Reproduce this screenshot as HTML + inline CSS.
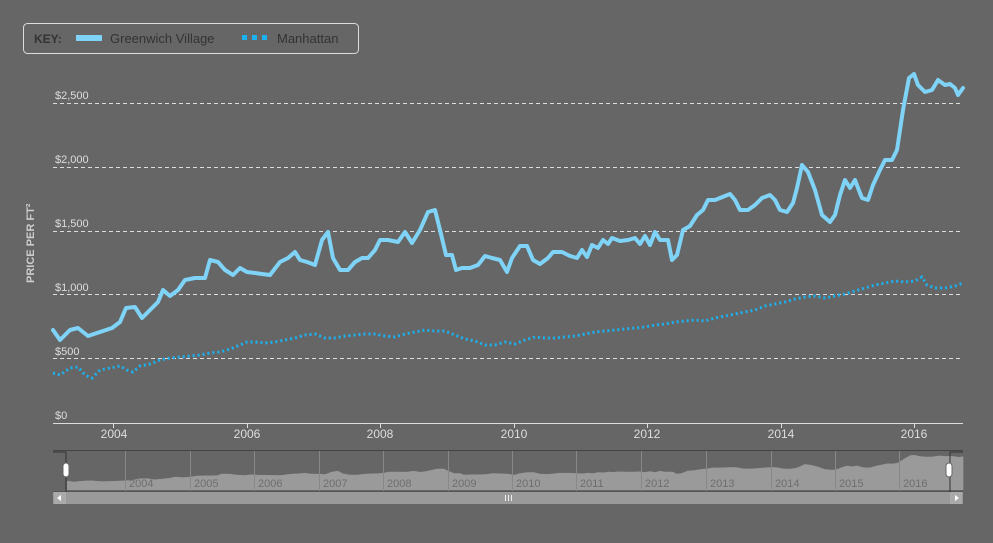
<!DOCTYPE html>
<html><head><style>
html,body{margin:0;padding:0;background:#666;}
body{width:993px;height:538px;overflow:hidden;font-family:"Liberation Sans",sans-serif;}
</style></head><body>
<svg width="993" height="538" xmlns="http://www.w3.org/2000/svg" font-family="Liberation Sans, sans-serif">
<rect width="993" height="538" fill="#666"/>
<!-- legend -->
<rect x="23.5" y="23.5" width="335" height="30" rx="4" fill="#666" stroke="#ddd" stroke-width="1"/>
<text x="34" y="43" font-size="12" font-weight="bold" fill="#333">KEY:</text>
<rect x="76" y="35" width="26" height="6" fill="#7fd3f7"/>
<text x="110" y="43" font-size="13" fill="#333">Greenwich Village</text>
<rect x="242" y="35" width="5" height="5" fill="#1ab2f0"/><rect x="252" y="35" width="5" height="5" fill="#1ab2f0"/><rect x="262" y="35" width="5" height="5" fill="#1ab2f0"/>
<text x="277" y="43" font-size="13" fill="#333">Manhattan</text>
<!-- grid -->
<g stroke="#ddd" stroke-dasharray="4,3" stroke-width="1">
<line x1="53" x2="963" y1="103.5" y2="103.5"/>
<line x1="53" x2="963" y1="167.5" y2="167.5"/>
<line x1="53" x2="963" y1="231.5" y2="231.5"/>
<line x1="53" x2="963" y1="294.5" y2="294.5"/>
<line x1="53" x2="963" y1="358.5" y2="358.5"/>
</g>
<line x1="53" x2="963" y1="423.5" y2="423.5" stroke="#ddd"/>
<g font-size="11" fill="#ddd">
<text x="55" y="99">$2,500</text><text x="55" y="163">$2,000</text><text x="55" y="227">$1,500</text>
<text x="55" y="291">$1,000</text><text x="55" y="355">$500</text><text x="55" y="419">$0</text>
</g>
<g stroke="#ddd"><line x1="113.5" x2="113.5" y1="423" y2="428"/><line x1="247.5" x2="247.5" y1="423" y2="428"/><line x1="380.5" x2="380.5" y1="423" y2="428"/><line x1="514.5" x2="514.5" y1="423" y2="428"/><line x1="647.5" x2="647.5" y1="423" y2="428"/><line x1="781.5" x2="781.5" y1="423" y2="428"/><line x1="914.5" x2="914.5" y1="423" y2="428"/></g>
<g font-size="12" fill="#ddd" text-anchor="middle">
<text x="114" y="438">2004</text><text x="247" y="438">2006</text><text x="380" y="438">2008</text><text x="514" y="438">2010</text><text x="647" y="438">2012</text><text x="781" y="438">2014</text><text x="914" y="438">2016</text>
</g>
<text transform="translate(34,283) rotate(-90)" font-size="11" font-weight="bold" fill="#ccc">PRICE PER FT²</text>
<!-- Manhattan -->
<polyline fill="none" stroke="#1ab2f0" stroke-width="3" stroke-dasharray="2,3" points="53,373 60,375 70,368 78,367 85,375 92,378 100,370 110,368 120,366 127,370 133,372 140,366 150,364 160,360 170,358 180,357 190,356 200,355 210,353 220,352 230,349 240,345 247,342 255,342 265,343 275,342 285,340 295,338 305,335 315,334 325,338 335,338 345,336 355,335 365,334 375,334 385,336 395,337 405,334 415,332 425,330 435,331 445,331 455,335 465,339 475,341 485,345 495,345 505,342 515,344 525,340 535,337 545,338 555,338 565,337 575,336 585,334 595,332 605,331 615,330 625,329 635,328 645,327 655,325 665,324 675,322 685,321 695,320 705,321 715,318 725,316 735,314 745,312 755,310 765,306 775,304 785,302 795,299 805,297 815,296 825,298 835,296 845,294 855,291 865,288 875,285 885,283 895,281 905,282 915,281 922,277 927,285 935,288 945,288 955,286 963,283"/>
<!-- GV -->
<polyline id="gv" fill="none" stroke="#7fd3f7" stroke-width="4" stroke-linejoin="round" stroke-linecap="round" points="53,330 60,340 70,330 78,328 88,336 100,332 112,328 120,322 126,308 135,307 142,318 150,310 158,302 163,290 170,296 178,290 185,280 195,278 205,278 210,260 218,262 225,270 233,275 240,268 247,272 255,273 262,274 270,275 280,262 288,258 295,252 300,260 307,262 315,265 322,240 328,232 333,258 340,270 348,270 355,262 362,258 368,258 375,250 380,240 388,240 398,242 405,232 412,243 420,230 428,212 435,210 440,230 446,255 452,255 456,270 462,268 470,268 478,265 485,256 492,258 500,260 507,272 512,258 520,246 527,246 533,260 540,264 548,258 553,252 562,252 570,256 577,258 582,250 587,257 592,245 598,248 603,240 608,244 612,238 620,241 628,240 635,238 640,244 645,236 650,245 655,232 660,240 668,240 672,260 677,255 683,230 690,226 697,215 703,210 708,200 715,200 720,198 725,196 730,194 735,200 740,210 748,210 755,205 762,198 770,195 775,200 780,210 787,212 793,203 797,188 802,165 808,172 815,190 822,215 830,222 835,215 840,195 845,180 850,188 855,180 858,188 862,198 868,200 873,185 879,172 885,160 892,160 897,150 903,110 909,78 914,74 918,85 925,92 932,90 938,80 945,85 950,84 955,88 958,95 963,88"/>
<!-- navigator -->
<line x1="53" x2="963" y1="450.5" y2="450.5" stroke="#444"/>
<g transform="matrix(0.985,0,0,0.1006,14.8,447.55)">
<polygon fill="#9a9a9a" points="53,422 53,330 60,340 70,330 78,328 88,336 100,332 112,328 120,322 126,308 135,307 142,318 150,310 158,302 163,290 170,296 178,290 185,280 195,278 205,278 210,260 218,262 225,270 233,275 240,268 247,272 255,273 262,274 270,275 280,262 288,258 295,252 300,260 307,262 315,265 322,240 328,232 333,258 340,270 348,270 355,262 362,258 368,258 375,250 380,240 388,240 398,242 405,232 412,243 420,230 428,212 435,210 440,230 446,255 452,255 456,270 462,268 470,268 478,265 485,256 492,258 500,260 507,272 512,258 520,246 527,246 533,260 540,264 548,258 553,252 562,252 570,256 577,258 582,250 587,257 592,245 598,248 603,240 608,244 612,238 620,241 628,240 635,238 640,244 645,236 650,245 655,232 660,240 668,240 672,260 677,255 683,230 690,226 697,215 703,210 708,200 715,200 720,198 725,196 730,194 735,200 740,210 748,210 755,205 762,198 770,195 775,200 780,210 787,212 793,203 797,188 802,165 808,172 815,190 822,215 830,222 835,215 840,195 845,180 850,188 855,180 858,188 862,198 868,200 873,185 879,172 885,160 892,160 897,150 903,110 909,78 914,74 918,85 925,92 932,90 938,80 945,85 950,84 955,88 958,95 963,88 963,422"/>
</g>
<g stroke="#888" stroke-width="1">
<line x1="125.5" x2="125.5" y1="451" y2="491"/><line x1="190.5" x2="190.5" y1="451" y2="491"/><line x1="254.5" x2="254.5" y1="451" y2="491"/><line x1="319.5" x2="319.5" y1="451" y2="491"/><line x1="383.5" x2="383.5" y1="451" y2="491"/><line x1="448.5" x2="448.5" y1="451" y2="491"/><line x1="512.5" x2="512.5" y1="451" y2="491"/><line x1="576.5" x2="576.5" y1="451" y2="491"/><line x1="641.5" x2="641.5" y1="451" y2="491"/><line x1="706.5" x2="706.5" y1="451" y2="491"/><line x1="771.5" x2="771.5" y1="451" y2="491"/><line x1="835.5" x2="835.5" y1="451" y2="491"/><line x1="899.5" x2="899.5" y1="451" y2="491"/>
</g>
<g font-size="11" fill="#6e6e6e">
<text x="129" y="487">2004</text><text x="194" y="487">2005</text><text x="258" y="487">2006</text><text x="323" y="487">2007</text><text x="387" y="487">2008</text><text x="452" y="487">2009</text><text x="516" y="487">2010</text><text x="580" y="487">2011</text><text x="645" y="487">2012</text><text x="710" y="487">2013</text><text x="775" y="487">2014</text><text x="839" y="487">2015</text><text x="903" y="487">2016</text>
</g>
<line x1="53" x2="963" y1="491.5" y2="491.5" stroke="#555"/>
<rect x="53" y="492" width="910" height="12" fill="#9a9a9a"/>
<rect x="54" y="492" width="12" height="12" fill="#aaa"/>
<rect x="950" y="492" width="12" height="12" fill="#aaa"/>
<path d="M61,495 L57,498 L61,501Z" fill="#fff"/><path d="M955,495 L959,498 L955,501Z" fill="#fff"/>
<g stroke="#eee"><line x1="505.5" x2="505.5" y1="495" y2="501"/><line x1="508.5" x2="508.5" y1="495" y2="501"/><line x1="511.5" x2="511.5" y1="495" y2="501"/></g>
<path d="M53,452 H66 V492" fill="none" stroke="#333"/>
<path d="M963,452 H950 V492" fill="none" stroke="#333"/>
<rect x="63" y="463" width="6" height="14" rx="3" fill="#fff" stroke="#666"/>
<rect x="946" y="463" width="6" height="14" rx="3" fill="#fff" stroke="#666"/>
</svg>
</body></html>
